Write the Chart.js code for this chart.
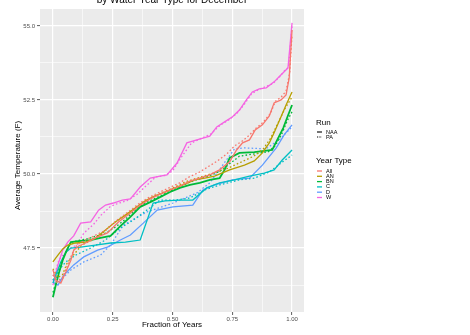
<!DOCTYPE html>
<html>
<head>
<meta charset="utf-8">
<script src="https://cdn.jsdelivr.net/npm/chart.js@4/dist/chart.umd.min.js"></script>
<style>
  html, body { margin: 0; padding: 0; background: #ffffff; }
  #wrap { width: 470px; height: 335px; position: relative; }
</style>
</head>
<body>
<div id="wrap"><canvas id="c" width="470" height="335"></canvas></div>
<script>
// Exceedance curves of average December temperature: [fraction of years, temperature (F)]
const yearTypes = ["All", "AN", "BN", "C", "D", "W"];
const runs = ["NAA", "PA"];
const typeColors = ["#F8766D", "#B79F00", "#00BA38", "#00BFC4", "#619CFF", "#F564E3"];

const xTicks = [0, 0.25, 0.5, 0.75, 1];
const xTickLabels = ["0.00", "0.25", "0.50", "0.75", "1.00"];
const xMinor = [0.125, 0.375, 0.625, 0.875];
const yTicks = [47.5, 50, 52.5, 55];
const yTickLabels = ["47.5", "50.0", "52.5", "55.0"];
const yMinor = [46.25, 48.75, 51.25, 53.75];

const allNAA = [[0,46.76],[.012,46.42],[.033,46.32],[.054,46.69],[.075,47.09],[.087,47.43],[.108,47.57],[.137,47.67],[.178,47.84],[.228,48.01],[.274,48.38],[.324,48.68],[.365,48.95],[.407,49.16],[.448,49.32],[.490,49.46],[.531,49.59],[.573,49.76],[.614,49.86],[.656,49.97],[.697,50.14],[.739,50.41],[.768,50.81],[.793,51.05],[.822,51.15],[.846,51.49],[.876,51.66],[.905,51.96],[.925,52.40],[.954,52.50],[.975,52.67],[.988,53.24],[1,54.86]];
const allPA = [[0,46.6],[.015,46.35],[.04,46.5],[.06,46.9],[.08,47.3],[.1,47.6],[.13,47.75],[.17,47.9],[.22,48.1],[.27,48.45],[.32,48.75],[.36,49.0],[.40,49.2],[.45,49.4],[.49,49.55],[.53,49.7],[.57,49.9],[.61,50.05],[.65,50.25],[.69,50.45],[.73,50.7],[.76,50.95],[.79,51.1],[.82,51.3],[.85,51.55],[.88,51.75],[.91,52.05],[.93,52.45],[.955,52.6],[.975,52.8],[.99,53.4],[1,54.7]];

const anNAA = [[0,47.03],[.021,47.26],[.041,47.47],[.062,47.60],[.095,47.67],[.137,47.70],[.178,47.84],[.220,48.11],[.261,48.38],[.303,48.61],[.344,48.85],[.386,49.09],[.427,49.26],[.469,49.39],[.510,49.53],[.552,49.66],[.593,49.80],[.635,49.86],[.676,49.93],[.739,50.14],[.801,50.30],[.842,50.44],[.876,50.71],[.905,51.05],[.925,51.39],[.954,51.93],[.975,52.33],[1,52.77]];
const anPA = [[0,46.8],[.02,46.5],[.04,46.6],[.06,47.0],[.09,47.3],[.12,47.6],[.16,47.75],[.2,47.95],[.24,48.25],[.28,48.5],[.32,48.7],[.36,48.95],[.4,49.15],[.44,49.3],[.48,49.45],[.52,49.6],[.56,49.75],[.6,49.85],[.64,49.95],[.68,50.05],[.72,50.15],[.76,50.3],[.8,50.45],[.84,50.6],[.88,50.85],[.91,51.2],[.94,51.7],[.97,52.2],[1,52.6]];

const bnNAA = [[0,45.84],[.012,46.25],[.025,46.66],[.041,47.09],[.058,47.43],[.075,47.70],[.116,47.74],[.158,47.77],[.199,47.84],[.241,47.91],[.282,48.24],[.324,48.55],[.365,48.89],[.407,49.05],[.448,49.22],[.490,49.39],[.531,49.53],[.573,49.63],[.614,49.70],[.656,49.80],[.697,49.86],[.718,50.14],[.739,50.54],[.780,50.71],[.842,50.74],[.884,50.78],[.917,50.81],[.938,51.15],[.963,51.55],[.979,51.89],[1,52.33]];
const bnPA = [[0,46.0],[.015,46.4],[.03,46.9],[.05,47.3],[.07,47.6],[.1,47.75],[.14,47.8],[.18,47.9],[.22,48.0],[.26,48.2],[.3,48.45],[.34,48.75],[.38,49.0],[.42,49.15],[.46,49.3],[.5,49.45],[.54,49.6],[.58,49.75],[.62,49.85],[.66,49.95],[.7,50.1],[.74,50.35],[.78,50.6],[.82,50.65],[.86,50.7],[.9,50.75],[.93,50.95],[.96,51.4],[.98,51.8],[1,52.1]];

const cNAA = [[0,46.32],[.017,46.69],[.033,47.03],[.054,47.36],[.075,47.50],[.116,47.53],[.178,47.60],[.241,47.67],[.303,47.70],[.365,47.77],[.419,49.02],[.469,49.09],[.531,49.12],[.585,49.12],[.643,49.53],[.697,49.70],[.759,49.80],[.822,49.93],[.884,50.03],[.925,50.14],[.959,50.47],[1,50.81]];
const cPA = [[0,46.42],[.025,46.76],[.054,47.03],[.095,47.26],[.158,47.50],[.220,47.77],[.282,48.18],[.324,48.38],[.365,48.61],[.448,49.12],[.510,49.12],[.573,49.19],[.635,49.46],[.697,49.63],[.780,49.80],[.842,49.86],[.905,50.07],[.954,50.37],[1,50.64]];

const dNAA = [[0,46.35],[.021,46.25],[.046,46.59],[.087,46.93],[.129,47.20],[.187,47.43],[.228,47.53],[.282,47.77],[.324,47.94],[.378,48.34],[.436,48.78],[.502,48.89],[.585,48.95],[.627,49.46],[.676,49.63],[.751,49.80],[.822,49.86],[.876,50.30],[.934,50.88],[.967,51.32],[1,51.66]];
const dPA = [[0,46.59],[.033,46.42],[.075,46.76],[.129,47.03],[.199,47.26],[.241,47.60],[.295,48.28],[.394,48.72],[.502,49.02],[.602,49.36],[.656,49.7],[.71,50.3],[.76,50.85],[.8,50.88],[.89,50.85],[.946,51.15],[1,51.59]];

const wNAA = [[0,46.25],[.021,46.93],[.041,47.43],[.062,47.70],[.087,47.91],[.116,48.34],[.158,48.38],[.191,48.78],[.220,48.95],[.253,49.02],[.290,49.12],[.324,49.16],[.365,49.56],[.407,49.86],[.448,49.93],[.477,49.97],[.519,50.37],[.560,51.05],[.602,51.15],[.656,51.28],[.685,51.59],[.718,51.76],[.751,51.93],[.780,52.16],[.809,52.50],[.834,52.77],[.863,52.87],[.892,52.91],[.925,53.11],[.946,53.28],[.967,53.45],[.983,53.58],[1,55.10]];
const wPA = [[0,46.4],[.025,47.1],[.046,47.3],[.075,47.5],[.1,47.6],[.129,48.0],[.17,48.3],[.2,48.6],[.24,48.9],[.27,49.0],[.31,49.1],[.35,49.3],[.39,49.6],[.43,49.9],[.47,49.95],[.5,50.1],[.54,50.6],[.58,51.05],[.62,51.2],[.66,51.35],[.70,51.65],[.74,51.85],[.77,52.05],[.80,52.35],[.83,52.7],[.86,52.85],[.89,52.95],[.92,53.05],[.95,53.3],[.97,53.5],[.985,53.6],[1,55.0]];

const seriesNAA = [allNAA, anNAA, bnNAA, cNAA, dNAA, wNAA];
const seriesPA = [allPA, anPA, bnPA, cPA, dPA, wPA];

const FONT = "'Liberation Sans', Arial, sans-serif";
const DOTS = [1.6, 2.2];

const datasets = [];
yearTypes.forEach((t, i) => {
  datasets.push({
    label: t + " NAA",
    data: seriesNAA[i].map(p => ({ x: p[0], y: p[1] })),
    borderColor: typeColors[i],
    borderWidth: t === "BN" ? 1.8 : 1.3,
    pointRadius: 0,
    fill: false,
    tension: 0
  });
  datasets.push({
    label: t + " PA",
    data: seriesPA[i].map(p => ({ x: p[0], y: p[1] })),
    borderColor: typeColors[i],
    borderWidth: 1.3,
    borderDash: DOTS,
    pointRadius: 0,
    fill: false,
    tension: 0
  });
});

function isMajor(list, v) {
  return list.some(m => Math.abs(m - v) < 1e-6);
}

// Gray panel, titles and the two-part legend
const decor = {
  id: "decor",
  beforeDraw(chart) {
    const { ctx, chartArea: a } = chart;
    ctx.save();
    ctx.fillStyle = "#ffffff";
    ctx.fillRect(0, 0, chart.width, chart.height);
    ctx.fillStyle = "#EBEBEB";
    ctx.fillRect(a.left, a.top, a.right - a.left, a.bottom - a.top);
    ctx.restore();
  },
  afterDraw(chart) {
    const { ctx, chartArea: a } = chart;
    ctx.save();
    ctx.fillStyle = "#000000";
    ctx.textAlign = "center";
    ctx.textBaseline = "alphabetic";
    ctx.font = "10px " + FONT;
    ctx.fillText("by Water Year Type for December", (a.left + a.right) / 2, 3);

    ctx.font = "8px " + FONT;
    ctx.textBaseline = "middle";
    ctx.fillText("Fraction of Years", (a.left + a.right) / 2, 325);

    ctx.save();
    ctx.translate(18, (a.top + a.bottom) / 2 + 5);
    ctx.rotate(-Math.PI / 2);
    ctx.fillText("Average Temperature (F)", 0, 0);
    ctx.restore();

    // legend: Run (line type)
    const lx = 316;
    ctx.textAlign = "left";
    ctx.font = "8px " + FONT;
    ctx.fillText("Run", lx, 123);
    ctx.font = "5.5px " + FONT;
    const runY = [132, 137];
    runs.forEach((r, i) => {
      ctx.strokeStyle = "#000000";
      ctx.lineWidth = 1.1;
      ctx.setLineDash(i === 0 ? [] : [1.2, 1.2]);
      ctx.beginPath();
      ctx.moveTo(lx + 1, runY[i]);
      ctx.lineTo(lx + 6, runY[i]);
      ctx.stroke();
      ctx.setLineDash([]);
      ctx.fillStyle = "#000000";
      ctx.fillText(r, lx + 10, runY[i]);
    });

    // legend: Year Type (colour)
    ctx.font = "8px " + FONT;
    ctx.fillText("Year Type", lx, 161);
    ctx.font = "5.5px " + FONT;
    yearTypes.forEach((t, i) => {
      const y = 171 + i * 5.3;
      ctx.strokeStyle = typeColors[i];
      ctx.lineWidth = 1.3;
      ctx.beginPath();
      ctx.moveTo(lx + 1, y);
      ctx.lineTo(lx + 6, y);
      ctx.stroke();
      ctx.fillStyle = "#000000";
      ctx.fillText(t, lx + 10, y);
    });
    ctx.restore();
  }
};

new Chart(document.getElementById("c"), {
  type: "line",
  data: { datasets },
  plugins: [decor],
  options: {
    responsive: false,
    animation: false,
    events: [],
    layout: { padding: { left: 0, top: 9, right: 166, bottom: 0 } },
    plugins: { legend: { display: false }, title: { display: false }, tooltip: { enabled: false } },
    scales: {
      x: {
        type: "linear",
        min: -0.054,
        max: 1.05,
        afterBuildTicks(scale) {
          scale.ticks = xTicks.concat(xMinor).sort((p, q) => p - q).map(v => ({ value: v }));
        },
        afterFit(scale) { scale.height = 23; },
        border: { display: false },
        grid: {
          color: "#ffffff",
          lineWidth: c => (c.tick && isMajor(xTicks, c.tick.value) ? 1.2 : 0.6),
          tickColor: c => (c.tick && isMajor(xTicks, c.tick.value) ? "#333333" : "rgba(0,0,0,0)"),
          tickLength: 3,
          tickWidth: 0.8
        },
        ticks: {
          autoSkip: false,
          maxRotation: 0,
          padding: 1,
          color: "#4D4D4D",
          font: { family: FONT, size: 6 },
          callback: v => { const k = xTicks.findIndex(m => Math.abs(m - v) < 1e-6); return k >= 0 ? xTickLabels[k] : ""; }
        }
      },
      y: {
        type: "linear",
        min: 45.34,
        max: 55.57,
        afterBuildTicks(scale) {
          scale.ticks = yTicks.concat(yMinor).sort((p, q) => p - q).map(v => ({ value: v }));
        },
        afterFit(scale) { scale.width = 40; },
        border: { display: false },
        grid: {
          color: "#ffffff",
          lineWidth: c => (c.tick && isMajor(yTicks, c.tick.value) ? 1.2 : 0.6),
          tickColor: c => (c.tick && isMajor(yTicks, c.tick.value) ? "#333333" : "rgba(0,0,0,0)"),
          tickLength: 3,
          tickWidth: 0.8
        },
        ticks: {
          autoSkip: false,
          padding: 2,
          color: "#4D4D4D",
          font: { family: FONT, size: 6 },
          callback: v => { const k = yTicks.findIndex(m => Math.abs(m - v) < 1e-6); return k >= 0 ? yTickLabels[k] : ""; }
        }
      }
    }
  }
});
</script>
</body>
</html>
